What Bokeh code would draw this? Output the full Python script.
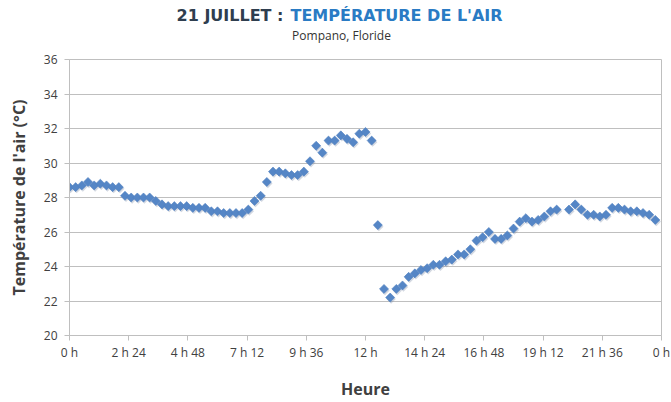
from bokeh.plotting import figure
from bokeh.layouts import column
from bokeh.models import Range1d, FixedTicker
from bokeh.core.properties import value
from bokeh.embed import file_html
from bokeh.resources import INLINE
from bokeh.transform import dodge
import math

# Time of day (hours) and air temperature (°C); the 20 h reading is missing
hours = [0.0, 0.25, 0.5, 0.75, 1.0, 1.25, 1.5, 1.75, 2.0, 2.25, 2.5, 2.75,
         3.0, 3.25, 3.5, 3.75, 4.0, 4.25, 4.5, 4.75, 5.0, 5.25, 5.5, 5.75,
         6.0, 6.25, 6.5, 6.75, 7.0, 7.25, 7.5, 7.75, 8.0, 8.25, 8.5, 8.75,
         9.0, 9.25, 9.5, 9.75, 10.0, 10.25, 10.5, 10.75, 11.0, 11.25, 11.5, 11.75,
         12.0, 12.25, 12.5, 12.75, 13.0, 13.25, 13.5, 13.75, 14.0, 14.25, 14.5, 14.75,
         15.0, 15.25, 15.5, 15.75, 16.0, 16.25, 16.5, 16.75, 17.0, 17.25, 17.5, 17.75,
         18.0, 18.25, 18.5, 18.75, 19.0, 19.25, 19.5, 19.75, 20.25, 20.5, 20.75,
         21.0, 21.25, 21.5, 21.75, 22.0, 22.25, 22.5, 22.75, 23.0, 23.25, 23.5, 23.75]
temps = [28.6, 28.6, 28.7, 28.9, 28.7, 28.8, 28.7, 28.6, 28.6, 28.1, 28.0, 28.0,
         28.0, 28.0, 27.8, 27.6, 27.5, 27.5, 27.5, 27.5, 27.4, 27.4, 27.4, 27.2,
         27.2, 27.1, 27.1, 27.1, 27.1, 27.3, 27.8, 28.1, 28.9, 29.5, 29.5, 29.4,
         29.3, 29.3, 29.5, 30.1, 31.0, 30.6, 31.3, 31.3, 31.6, 31.4, 31.2, 31.7,
         31.8, 31.3, 26.4, 22.7, 22.2, 22.7, 22.9, 23.4, 23.6, 23.8, 23.9, 24.1,
         24.1, 24.3, 24.4, 24.7, 24.7, 25.0, 25.5, 25.7, 26.0, 25.6, 25.6, 25.8,
         26.2, 26.6, 26.8, 26.6, 26.7, 26.9, 27.2, 27.3, 27.3, 27.6, 27.3,
         27.0, 27.0, 26.9, 27.0, 27.4, 27.4, 27.3, 27.2, 27.2, 27.1, 27.0, 26.7]

x_ticks = [0, 2.4, 4.8, 7.2, 9.6, 12, 14.4, 16.8, 19.2, 21.6, 24]
x_tick_labels = ["0 h", "2 h 24", "4 h 48", "7 h 12", "9 h 36", "12 h",
                 "14 h 24", "16 h 48", "19 h 12", "21 h 36", "0 h"]
y_ticks = [20, 22, 24, 26, 28, 30, 32, 34, 36]

title_left = "21 JUILLET :"
title_right = "TEMPÉRATURE DE L'AIR"
subtitle = "Pompano, Floride"
x_label = "Heure"
y_label = "Température de l'air (°C)"

W = 671
TH = 50
H = 352
BL, BR = 69, 10

# ---- title strip (frame spans the same columns as the chart frame) ----
t = figure(width=W, height=TH, output_backend="svg", toolbar_location=None,
           x_range=Range1d(BL, W - BR), y_range=Range1d(TH, 0),
           x_axis_type=None, y_axis_type=None,
           min_border_left=BL, min_border_right=BR,
           min_border_top=0, min_border_bottom=0)
t.outline_line_color = None
t.grid.grid_line_color = None
t.text(x=[283], y=[15], text=[title_left], text_align="right",
       text_baseline="middle", text_font=value("DejaVu Sans"),
       text_font_style="bold", text_font_size="16px", text_color="#2f3e4f")
t.text(x=[290], y=[15], text=[title_right], text_align="left",
       text_baseline="middle", text_font=value("DejaVu Sans"),
       text_font_style="bold", text_font_size="16px", text_color="#2a7bc4")
t.text(x=[341], y=[35], text=[subtitle], text_align="center",
       text_baseline="middle", text_font=value("Open Sans"),
       text_font_size="12px", text_color="#333333")

# ---- chart ----
p = figure(width=W, height=H, output_backend="svg", toolbar_location=None,
           x_range=Range1d(0, 24), y_range=Range1d(20, 36),
           min_border_left=BL, min_border_right=BR, min_border_top=9,
           min_border_bottom=67)
p.background_fill_color = "white"
p.border_fill_color = "white"
p.outline_line_color = "#bfbfbf"
p.outline_line_width = 1

p.xgrid.grid_line_color = None
p.ygrid.grid_line_color = "#bfbfbf"
p.ygrid.grid_line_width = 1

p.xaxis.ticker = FixedTicker(ticks=x_ticks)
p.xaxis.major_label_overrides = {tk: lb for tk, lb in zip(x_ticks, x_tick_labels)}
p.yaxis.ticker = FixedTicker(ticks=y_ticks)

for ax in (p.xaxis[0], p.yaxis[0]):
    ax.axis_line_color = "#bfbfbf"
    ax.major_tick_line_color = "#bfbfbf"
    ax.major_tick_out = 5
    ax.major_tick_in = 0
    ax.minor_tick_line_color = None
    ax.major_label_text_font = "Open Sans"
    ax.major_label_text_font_size = "12px"
    ax.major_label_text_color = "#404040"
    ax.axis_label_text_font = "Open Sans"
    ax.axis_label_text_font_style = "bold"
    ax.axis_label_text_font_size = "16px"
    ax.axis_label_text_color = "#404040"

p.xaxis.major_label_standoff = 3
p.yaxis.major_label_standoff = 7
p.xaxis.axis_label = x_label
p.yaxis.axis_label = y_label
p.xaxis.axis_label_standoff = 14
p.yaxis.axis_label_standoff = 11

# soft shadow then markers
p.scatter(x=dodge("h", 0.04, range=p.x_range), y=dodge("t", -0.09, range=p.y_range),
          source=dict(h=hours, t=temps), marker="square", angle=math.pi / 4, size=6.6,
          fill_color="#8090a8", fill_alpha=0.35, line_color=None)
p.scatter(x=hours, y=temps, marker="square", angle=math.pi / 4, size=6.4,
          fill_color="#5586c6", line_color="#4f80bf", line_width=0.6)

layout = column(t, p, spacing=0)
open("out.html", "w").write(file_html(layout, INLINE))
